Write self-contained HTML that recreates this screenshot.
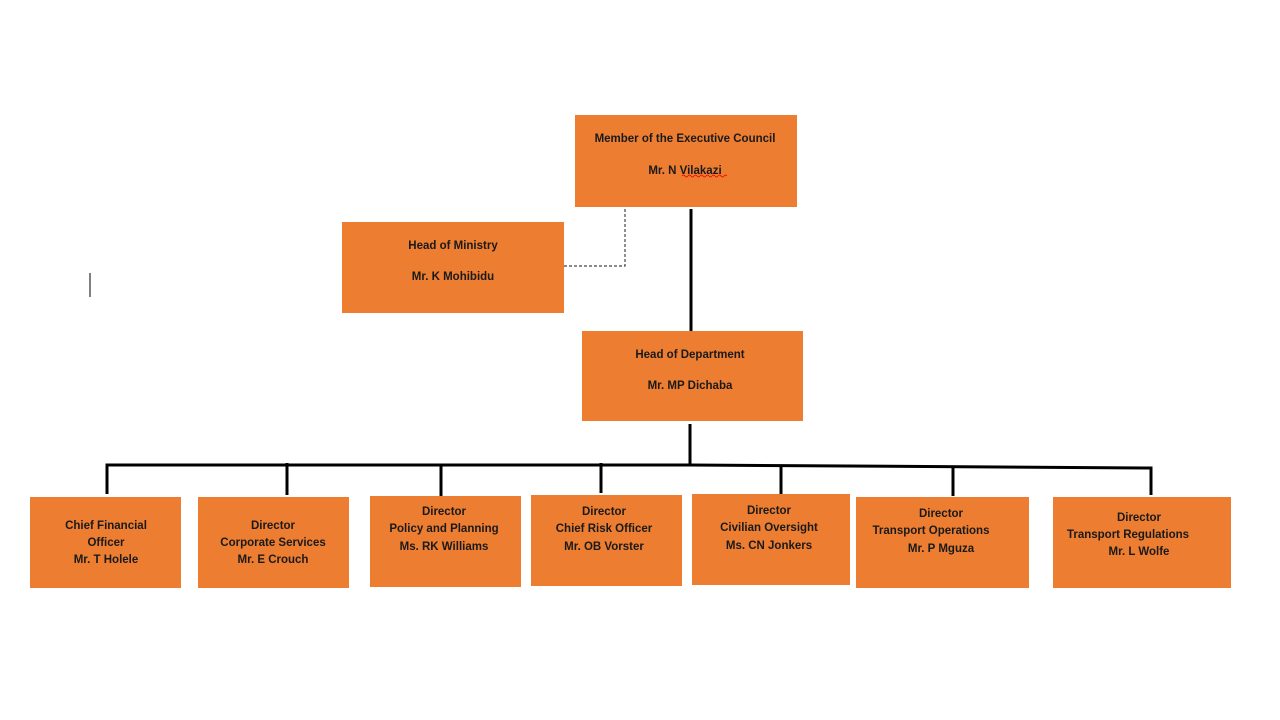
<!DOCTYPE html>
<html><head><meta charset="utf-8"><style>
html,body{margin:0;padding:0;background:#fff;width:1280px;height:720px;overflow:hidden}
svg text{font-family:"Liberation Sans",sans-serif;font-weight:bold;font-size:11.5px;fill:#1a1a1a;text-anchor:middle}
</style></head><body>
<svg width="1280" height="720" xmlns="http://www.w3.org/2000/svg">
<g fill="#ED7D31">
<rect x="575" y="115" width="222" height="92"/>
<rect x="342" y="222" width="222" height="91"/>
<rect x="582" y="331" width="221" height="90"/>
<rect x="30" y="497" width="151" height="91"/>
<rect x="198" y="497" width="151" height="91"/>
<rect x="370" y="496" width="151" height="91"/>
<rect x="531" y="495" width="151" height="91"/>
<rect x="692" y="494" width="158" height="91"/>
<rect x="856" y="497" width="173" height="91"/>
<rect x="1053" y="497" width="178" height="91"/>
</g>
<g stroke="#000" stroke-width="3" fill="none">
<line x1="691" y1="209" x2="691" y2="331"/>
<line x1="690" y1="424" x2="690" y2="466"/>
<polyline points="107,494 107,465 690,465 1151,468 1151,495"/>
<line x1="287" y1="463" x2="287" y2="495"/>
<line x1="441" y1="465" x2="441" y2="496"/>
<line x1="601" y1="463" x2="601" y2="493"/>
<line x1="781" y1="466" x2="781" y2="494"/>
<line x1="953" y1="467" x2="953" y2="496"/>
</g>
<polyline points="625,209 625,266 564,266" stroke="#444" stroke-width="1.2" stroke-dasharray="3,2" fill="none"/>
<line x1="90" y1="273" x2="90" y2="297" stroke="#000" stroke-width="1"/>
<text x="685" y="142">Member of the Executive Council</text>
<text x="685" y="174">Mr. N Vilakazi</text>
<path d="M682 176 q1.5 -2 3 0 t3 0 t3 0 t3 0 t3 0 t3 0 t3 0 t3 0 t3 0 t3 0 t3 0 t3 0 t3 0 t3 0 t3 0" stroke="#e00" stroke-width="0.8" fill="none"/>
<text x="453" y="249">Head of Ministry</text>
<text x="453" y="280">Mr. K Mohibidu</text>
<text x="690" y="358">Head of Department</text>
<text x="690" y="389">Mr. MP Dichaba</text>
<text x="106" y="529">Chief Financial</text><text x="106" y="546">Officer</text><text x="106" y="563">Mr. T Holele</text>
<text x="273" y="529">Director</text><text x="273" y="546">Corporate Services</text><text x="273" y="563">Mr. E Crouch</text>
<text x="444" y="515">Director</text><text x="444" y="532">Policy and Planning</text><text x="444" y="550">Ms. RK Williams</text>
<text x="604" y="515">Director</text><text x="604" y="532">Chief Risk Officer</text><text x="604" y="550">Mr. OB Vorster</text>
<text x="769" y="514">Director</text><text x="769" y="531">Civilian Oversight</text><text x="769" y="549">Ms. CN Jonkers</text>
<text x="941" y="517">Director</text><text x="931" y="534">Transport Operations</text><text x="941" y="552">Mr. P Mguza</text>
<text x="1139" y="521">Director</text><text x="1128" y="538">Transport Regulations</text><text x="1139" y="555">Mr. L Wolfe</text>
</svg>
</body></html>
